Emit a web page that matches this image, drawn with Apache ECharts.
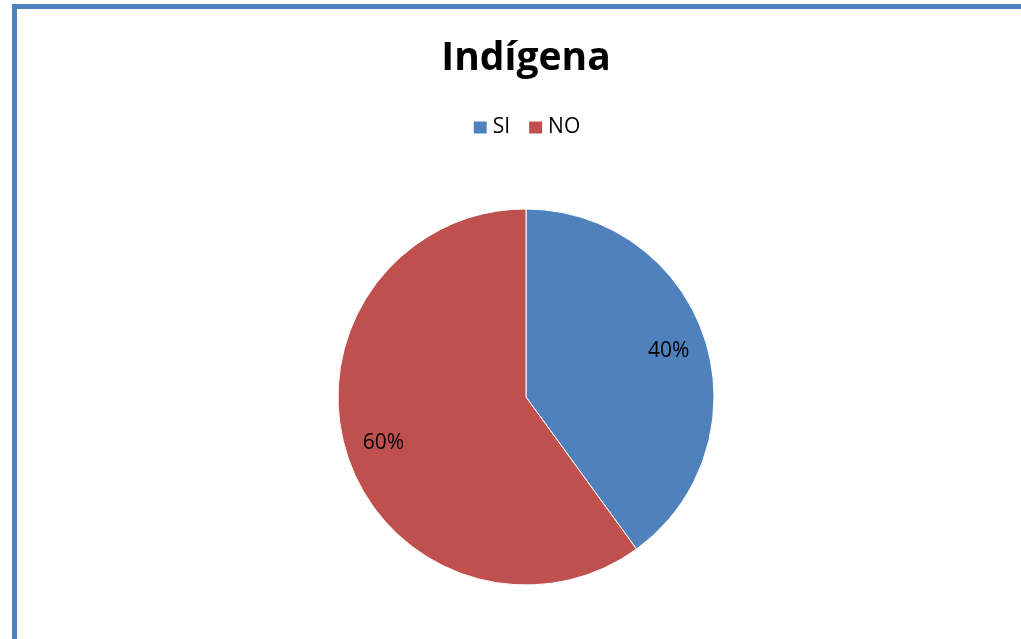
<!DOCTYPE html>
<html>
<head>
<meta charset="utf-8">
<script src="https://cdn.jsdelivr.net/npm/echarts@6/dist/echarts.min.js"></script>
<style>
html,body{margin:0;padding:0;background:#fff;}
#frame{position:absolute;left:12px;top:4px;right:0;bottom:0;border-left:5px solid #4f81bd;border-top:5px solid #4f81bd;}
#chart{position:absolute;left:31px;top:0;width:990px;height:639px;}
</style>
</head>
<body>
<div id="frame"></div>
<div id="chart"></div>
<script>
const title = 'Indígena';
const categories = ['SI', 'NO'];
const values = [40, 60];
const colors = ['#4f81bd', '#c0504d'];

const data = categories.map((c, i) => ({ name: c, value: values[i], itemStyle: { color: colors[i] } }));
const labelData = categories.map((c, i) => ({ name: c, value: values[i] }));

const chart = echarts.init(document.getElementById('chart'), null, { renderer: 'canvas' });
chart.setOption({
  backgroundColor: 'transparent',
  animation: false,
  title: {
    text: title,
    left: 'center',
    top: 34,
    textStyle: { fontFamily: 'Open Sans', fontWeight: 'bold', fontSize: 39, color: '#000' }
  },
  legend: {
    data: categories,
    left: 'center',
    top: 112,
    icon: 'rect',
    itemWidth: 15,
    itemHeight: 14,
    itemGap: 17,
    textStyle: { fontFamily: 'Open Sans', fontSize: 21, color: '#000' }
  },
  series: [
    {
      type: 'pie',
      center: [495, 397],
      radius: [0, 188],
      startAngle: 90,
      clockwise: true,
      data: data,
      label: { show: false },
      labelLine: { show: false },
      itemStyle: { borderColor: '#fff', borderWidth: 1 },
      emphasis: { disabled: true }
    },
    {
      type: 'pie',
      center: [495, 397],
      radius: [106, 188],
      startAngle: 90,
      clockwise: true,
      silent: true,
      data: labelData,
      itemStyle: { color: 'rgba(0,0,0,0)', borderWidth: 0 },
      label: {
        show: true,
        position: 'inside',
        formatter: '{d}%',
        fontFamily: 'Open Sans',
        fontSize: 21,
        color: '#000'
      },
      labelLine: { show: false },
      emphasis: { disabled: true }
    }
  ]
});
</script>
</body>
</html>
